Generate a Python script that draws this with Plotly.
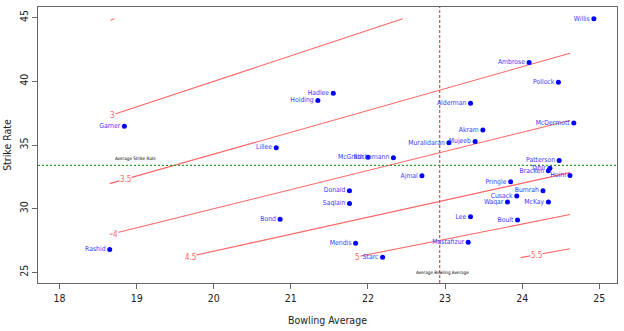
import plotly.graph_objects as go

# ---- data ----
bowlers = ["Willis", "Ambrose", "Pollock", "Alderman", "McDermott", "Akram", "Mujeeb",
           "Muralidaran", "Hadlee", "Holding", "Garner", "Lillee", "McGrath", "Rackemann",
           "Ajmal", "Donald", "Saqlain", "Bond", "Mendis", "Starc", "Rashid", "Mustafizur",
           "Lee", "Boult", "Pringle", "Cusack", "Waqar", "Bumrah", "McKay", "Hoini",
           "Patterson", "Bracken", "Tahir"]
bowling_avg = [24.93, 24.09, 24.47, 23.33, 24.67, 23.49, 23.39,
               23.05, 21.55, 21.35, 18.84, 20.81, 22.00, 22.33,
               22.70, 21.76, 21.76, 20.86, 21.84, 22.19, 18.65, 23.30,
               23.33, 23.94, 23.85, 23.93, 23.81, 24.27, 24.34, 24.62,
               24.48, 24.34, 24.36]
strike_rate = [44.9, 41.47, 39.92, 38.28, 36.73, 36.18, 35.27,
               35.17, 39.06, 38.49, 36.47, 34.78, 34.03, 34.0,
               32.58, 31.41, 30.40, 29.18, 27.29, 26.20, 26.79, 27.37,
               29.36, 29.12, 32.11, 30.99, 30.53, 31.41, 30.53, 32.60,
               33.79, 32.97, 33.17]

# economy contour lines (endpoints)
econ_levels = ["2.5", "3", "3.5", "4", "4.5", "5", "5.5"]
line_x0 = [18.66, 18.65, 18.65, 18.65, 19.65, 21.84, 23.98]
line_y0 = [44.79, 37.30, 31.97, 27.98, 26.20, 26.21, 26.16]
line_x1 = [18.71, 22.45, 24.62, 24.62, 24.62, 24.62, 24.62]
line_y1 = [44.90, 44.90, 42.20, 36.93, 32.83, 29.54, 26.86]
label_x = [None, 18.69, 18.86, 18.72, 19.70, 21.86, 24.18]
label_y = [None, 37.33, 32.30, 28.00, 26.20, 26.20, 26.30]

avg_strike_rate = 33.4
avg_bowling_avg = 22.93

FONT = "Liberation Sans Narrow, DejaVu Sans Condensed, Arial Narrow, Liberation Sans, Arial, sans-serif"
RED = "#ff6464"

fig = go.Figure()

for i, lvl in enumerate(econ_levels):
    fig.add_trace(go.Scatter(
        x=[line_x0[i], line_x1[i]], y=[line_y0[i], line_y1[i]],
        mode="lines", line=dict(color=RED, width=1.1),
        hoverinfo="skip", showlegend=False))

# reference lines
fig.add_trace(go.Scatter(x=[17.72, 25.23], y=[avg_strike_rate, avg_strike_rate],
                         mode="lines", line=dict(color="#22a022", width=1.2, dash="2px,2px"),
                         showlegend=False, hoverinfo="skip"))
fig.add_trace(go.Scatter(x=[avg_bowling_avg, avg_bowling_avg], y=[24.17, 45.83],
                         mode="lines", line=dict(color="#cc5555", width=1.2, dash="3px,2px"),
                         showlegend=False, hoverinfo="skip"))

fig.add_trace(go.Scatter(
    x=bowling_avg, y=strike_rate, mode="markers+text",
    text=bowlers, textposition="middle left",
    textfont=dict(family=FONT, size=6.8, color="#3a3aff"),
    marker=dict(color="#0000ff", size=5),
    showlegend=False))

for i, lvl in enumerate(econ_levels):
    if label_x[i] is None:
        continue
    fig.add_annotation(x=label_x[i], y=label_y[i], text=lvl, showarrow=False,
                       font=dict(family=FONT, size=8, color=RED),
                       bgcolor="white", borderpad=0)

fig.add_annotation(x=18.99, y=33.95, text="Average Strike Rate", showarrow=False,
                   font=dict(family=FONT, size=4.6, color="black"))
fig.add_annotation(x=22.97, y=25.03, text="Average Bowling Average", showarrow=False,
                   font=dict(family=FONT, size=4.6, color="black"))

axis_common = dict(showgrid=False, zeroline=False, showline=True, linecolor="#666666",
                   linewidth=1, mirror=True, ticks="outside", ticklen=5, tickcolor="#666666",
                   tickfont=dict(family=FONT, size=10.5, color="#222222"))

fig.update_xaxes(range=[17.72, 25.23], tickvals=[18, 19, 20, 21, 22, 23, 24, 25],
                 title=dict(text="Bowling Average", font=dict(family=FONT, size=10.5, color="#222222"),
                            standoff=14),
                 **axis_common)
fig.update_yaxes(range=[24.17, 45.83], tickvals=[25, 30, 35, 40, 45], tickangle=-90,
                 title=dict(text="Strike Rate", font=dict(family=FONT, size=10.5, color="#222222"),
                            standoff=4),
                 **axis_common)

fig.update_layout(width=624, height=331, margin=dict(l=37, r=6, t=6, b=47),
                  plot_bgcolor="white", paper_bgcolor="white")

fig.write_html("out.html")
